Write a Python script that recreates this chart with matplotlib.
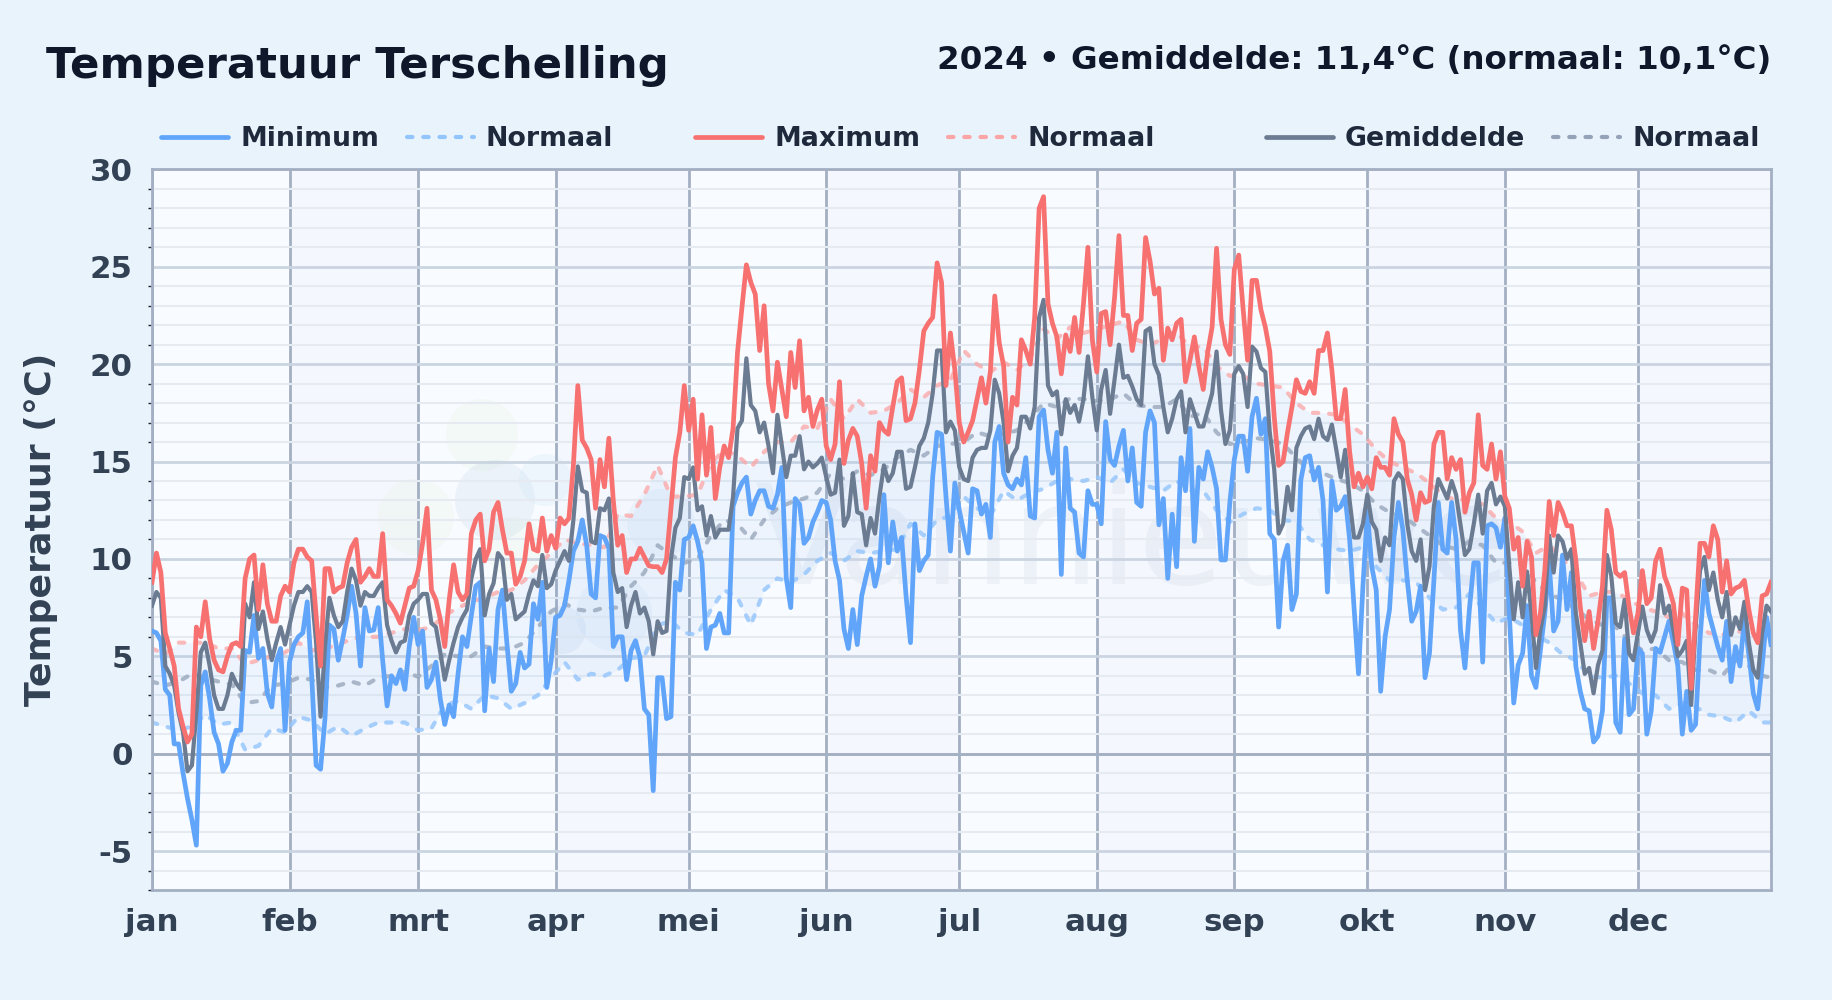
import matplotlib
matplotlib.use('Agg')
import matplotlib.pyplot as plt
from matplotlib.lines import Line2D
from matplotlib.patches import Circle
from matplotlib.ticker import MultipleLocator
from matplotlib.transforms import IdentityTransform
import numpy as np

plt.rcParams['font.family'] = 'DejaVu Sans'
plt.rcParams['font.weight'] = 'bold'
plt.rcParams['axes.unicode_minus'] = False

month_names = ['jan', 'feb', 'mrt', 'apr', 'mei', 'jun', 'jul', 'aug', 'sep', 'okt', 'nov', 'dec']
month_days = [31, 29, 31, 30, 31, 30, 31, 31, 30, 31, 30, 31]

temp_min = [
    6.3, 6.2, 5.8, 3.3, 3.0, 0.5, 0.5, -1.0, -2.3, -3.4,
    -4.7, 3.5, 4.2, 2.8, 1.1, 0.5, -0.9, -0.5, 0.6, 1.2,
    1.2, 5.3, 5.2, 7.1, 4.9, 5.4, 3.1, 2.4, 4.7, 5.4,
    1.2, 4.7, 5.6, 6.0, 6.2, 7.8, 4.0, -0.6, -0.8, 1.8,
    6.6, 6.4, 4.8, 5.9, 7.1, 8.6, 7.2, 4.5, 7.5, 6.3,
    6.35, 7.5, 4.8, 2.45, 4.0, 3.6, 4.3, 3.3, 5.5, 7.0,
    5.6, 6.3, 3.4, 3.8, 4.7, 2.8, 1.5, 2.5, 1.9, 4.1,
    6.0, 5.5, 7.1, 8.6, 8.8, 2.2, 5.4, 3.7, 7.4, 8.4,
    5.7, 3.2, 3.6, 5.2, 4.4, 4.6, 7.7, 6.9, 8.8, 3.4,
    4.8, 7.0, 7.1, 7.6, 8.9, 10.4, 10.9, 12.0, 10.7, 8.2,
    8.0, 11.2, 11.1, 10.55, 5.5, 6.0, 6.0, 3.8, 5.3, 5.8,
    4.95, 2.3, 2.0, -1.9, 3.9, 3.9, 1.8, 1.9, 8.8, 8.4,
    11.0, 11.1, 11.7, 10.9, 9.8, 5.4, 6.5, 6.6, 7.2, 6.2,
    6.2, 12.7, 13.4, 13.9, 14.2, 12.3, 13.0, 13.5, 13.5, 12.7,
    12.6, 13.3, 14.7, 9.0, 7.5, 13.1, 12.8, 10.8, 11.1, 11.9,
    12.4, 13.0, 12.9, 12.0, 9.9, 8.9, 6.4, 5.4, 7.4, 5.6,
    8.1, 9.1, 10.0, 8.6, 9.6, 13.3, 9.8, 11.9, 10.4, 11.1,
    8.1, 5.7, 11.8, 9.4, 9.9, 10.2, 14.2, 16.5, 16.4, 13.2,
    10.4, 13.9, 12.5, 11.4, 10.3, 13.6, 13.5, 12.3, 12.8, 11.1,
    16.0, 16.8, 14.4, 13.8, 13.6, 14.1, 13.8, 15.2, 12.2, 12.1,
    17.3, 17.65, 15.6, 14.4, 16.5, 9.2, 15.7, 12.6, 12.4, 10.3,
    10.1, 13.5, 12.8, 12.8, 11.8, 17.05, 15.1, 14.8, 15.8, 16.6,
    14.0, 15.7, 12.9, 12.7, 16.5, 17.6, 17.0, 11.75, 13.1, 9.0,
    12.3, 9.6, 15.2, 13.5, 16.7, 10.9, 14.7, 14.1, 15.5, 14.7,
    13.6, 9.95, 9.95, 12.9, 15.1, 16.3, 16.3, 14.5, 17.3, 18.25,
    16.4, 17.2, 11.3, 11.0, 6.5, 9.9, 10.7, 7.4, 8.2, 14.05,
    15.2, 15.3, 14.05, 14.7, 13.0, 8.3, 14.0, 12.5, 12.7, 13.2,
    11.0, 7.5, 4.1, 8.6, 12.4, 9.6, 8.4, 3.2, 6.0, 7.4,
    11.1, 12.9, 11.5, 8.9, 6.8, 7.3, 8.6, 3.9, 5.15, 8.9,
    12.9, 10.5, 10.3, 12.9, 11.0, 6.35, 4.4, 7.4, 9.8, 9.8,
    4.7, 11.7, 11.8, 11.6, 10.6, 12.1, 7.2, 2.6, 4.55, 5.15,
    7.6, 4.0, 3.4, 5.3, 7.2, 9.8, 6.3, 6.8, 10.2, 7.4,
    9.3, 4.5, 3.2, 2.3, 2.2, 0.6, 0.9, 2.2, 8.0, 8.0,
    1.6, 1.1, 5.9, 2.0, 2.3, 5.4, 5.15, 1.0, 2.2, 5.4,
    5.2, 6.0, 6.8, 5.7, 4.5, 1.0, 3.2, 1.2, 1.5, 5.9,
    8.9, 7.2, 6.35, 5.5, 4.8, 6.8, 3.7, 5.5, 4.5, 6.9,
    5.1, 3.1, 2.3, 4.5, 7.0, 5.6,
]

temp_max = [
    8.8, 10.3, 9.3, 6.2, 5.4, 4.5, 2.3, 1.4, 0.6, 1.0,
    6.5, 6.0, 7.8, 5.9, 4.8, 4.3, 4.2, 5.0, 5.6, 5.7,
    5.5, 9.0, 10.0, 10.2, 7.4, 9.7, 7.7, 6.8, 6.8, 8.1,
    8.6, 8.3, 9.8, 10.5, 10.5, 10.1, 9.9, 7.1, 4.5, 9.5,
    9.5, 8.3, 8.5, 8.6, 9.8, 10.6, 11.0, 8.8, 9.1, 9.5,
    9.1, 9.1, 11.3, 7.9, 7.6, 7.2, 6.7, 7.6, 8.5, 8.6,
    9.4, 10.8, 12.6, 8.4, 7.9, 6.9, 5.5, 7.9, 9.7, 8.3,
    7.9, 8.2, 11.3, 12.0, 12.3, 9.9, 10.5, 12.4, 12.9, 11.5,
    10.3, 10.3, 8.7, 9.1, 9.9, 11.8, 10.5, 10.4, 12.1, 10.4,
    11.2, 10.55, 12.1, 11.8, 12.1, 14.8, 18.9, 16.1, 15.7, 15.1,
    12.6, 15.1, 13.7, 16.2, 13.0, 10.7, 11.2, 9.3, 10.0, 10.0,
    10.55, 10.1, 9.65, 9.6, 9.6, 9.3, 10.0, 12.6, 15.2, 16.5,
    18.9, 16.6, 18.2, 14.1, 17.4, 14.3, 16.75, 13.1, 14.7, 15.8,
    15.2, 16.7, 20.6, 22.9, 25.1, 24.2, 23.6, 20.7, 23.0, 19.0,
    17.6, 20.1, 18.7, 17.3, 20.6, 18.8, 21.2, 17.6, 18.3, 16.8,
    17.65, 18.2, 15.8, 15.1, 15.9, 19.1, 14.9, 16.1, 16.7, 16.3,
    14.9, 12.6, 15.3, 14.5, 17.0, 16.6, 16.4, 17.8, 19.1, 19.3,
    17.1, 17.2, 18.0, 19.7, 21.7, 22.1, 22.4, 25.2, 24.2, 18.9,
    21.6, 19.7, 17.0, 16.0, 16.5, 17.1, 18.2, 19.3, 18.0, 19.6,
    23.5, 21.1, 19.9, 16.0, 18.3, 17.9, 21.25, 20.7, 20.0, 22.4,
    28.0, 28.6, 23.1, 22.1, 21.4, 19.5, 21.5, 20.65, 22.4, 20.6,
    23.1, 26.0, 21.25, 19.6, 22.6, 22.7, 21.0, 23.4, 26.6, 22.5,
    22.5, 20.7, 22.1, 22.3, 26.5, 25.3, 23.6, 23.9, 20.2, 21.85,
    21.25, 22.1, 22.3, 19.1, 20.2, 21.4, 19.9, 18.7, 20.6, 21.9,
    25.95, 22.3, 21.0, 20.5, 24.85, 25.6, 22.8, 20.2, 24.3, 24.3,
    22.8, 21.9, 20.65, 17.3, 14.8, 15.0, 16.5, 17.8, 19.2, 18.6,
    18.5, 19.1, 18.5, 20.7, 20.7, 21.6, 19.7, 17.2, 17.2, 18.7,
    15.5, 13.7, 14.4, 13.7, 14.2, 13.6, 15.2, 14.7, 14.7, 14.3,
    17.2, 16.4, 16.0, 14.1, 13.3, 12.0, 13.4, 12.9, 13.0, 15.9,
    16.5, 16.5, 14.1, 15.2, 14.6, 15.1, 12.4, 13.4, 13.9, 17.4,
    14.8, 14.6, 15.9, 14.1, 15.5, 13.2, 12.6, 10.5, 11.1, 8.6,
    10.9, 10.1, 6.1, 7.2, 9.4, 12.95, 11.2, 12.9, 12.4, 11.7,
    11.7, 9.95, 7.55, 5.8, 7.3, 5.4, 6.8, 8.6, 12.5, 11.5,
    9.3, 9.1, 9.3, 7.55, 6.2, 7.2, 9.4, 7.7, 8.0, 9.9,
    10.5, 9.1, 8.5, 7.7, 5.6, 8.5, 8.4, 3.35, 7.1, 10.8,
    10.8, 10.1, 11.7, 11.0, 8.3, 9.9, 8.2, 8.5, 8.6, 8.9,
    7.4, 6.2, 5.7, 8.1, 8.2, 8.8,
]

temp_avg = [
    7.6, 8.3, 8.0, 4.5, 4.1, 3.5, 2.1, 1.1, -0.9, -0.6,
    2.1, 5.2, 5.7, 4.5, 3.0, 2.3, 2.3, 3.0, 4.1, 3.6,
    3.3, 7.7, 7.0, 8.8, 6.4, 7.3, 5.9, 4.8, 5.7, 6.5,
    5.6, 6.6, 7.6, 8.3, 8.3, 8.6, 8.3, 5.7, 1.9, 5.5,
    8.0, 7.1, 6.5, 6.8, 8.3, 9.5, 8.9, 7.6, 8.3, 8.1,
    8.1, 8.5, 8.8, 6.6, 5.8, 5.2, 5.7, 5.8, 7.1, 7.7,
    7.9, 8.2, 8.2, 6.7, 6.5, 5.2, 3.8, 4.8, 5.7, 6.5,
    7.0, 7.4, 9.0, 10.0, 10.5, 7.1, 8.2, 8.75, 10.3, 10.0,
    7.9, 8.2, 6.9, 7.1, 7.3, 8.2, 8.9, 8.6, 10.2, 8.5,
    8.7, 9.4, 9.9, 10.4, 9.9, 12.0, 14.75, 13.5, 13.4, 10.9,
    10.8, 12.6, 12.5, 13.1, 9.3, 8.3, 8.5, 6.5, 7.6, 8.3,
    7.2, 7.5, 6.8, 5.1, 6.8, 6.2, 6.3, 10.0, 11.6, 12.1,
    14.2, 14.1, 14.7, 12.5, 12.7, 11.2, 12.2, 11.1, 11.5, 11.5,
    11.5, 13.2, 16.7, 17.1, 20.3, 17.9, 17.6, 16.5, 17.0, 15.8,
    14.4, 17.4, 15.8, 14.2, 15.3, 15.3, 16.3, 14.6, 15.0, 14.7,
    14.9, 15.2, 14.2, 13.3, 13.4, 15.1, 11.7, 12.2, 14.4, 12.4,
    12.3, 10.7, 12.1, 11.3, 13.2, 14.8, 14.0, 14.4, 15.5, 15.5,
    13.6, 13.7, 14.7, 15.8, 16.2, 17.0, 18.5, 20.7, 20.7, 16.5,
    17.05, 16.6, 14.7, 14.1, 14.0, 15.2, 15.6, 15.7, 15.7, 16.6,
    19.2, 18.5, 17.0, 14.5, 15.3, 15.7, 17.3, 17.3, 16.7, 17.8,
    22.4, 23.3, 18.9, 18.4, 18.6, 16.4, 18.2, 17.5, 17.9, 17.05,
    18.2, 20.4, 18.3, 16.6, 18.7, 19.7, 17.45, 19.2, 21.0, 19.3,
    19.4, 18.85, 18.2, 17.9, 21.7, 21.85, 20.0, 19.45, 17.8, 16.5,
    17.2, 18.2, 18.6, 16.5, 18.2, 17.5, 16.8, 16.8, 17.65, 18.5,
    20.65, 17.65, 15.9, 16.6, 19.5, 19.9, 19.5, 17.8, 20.9, 20.65,
    19.8, 19.6, 16.5, 14.6, 11.3, 11.8, 13.7, 12.5, 15.7, 16.3,
    16.7, 16.8, 16.15, 17.2, 16.3, 16.1, 16.9, 15.6, 14.2, 15.6,
    13.0, 11.1, 11.1, 11.8, 13.3, 11.9, 11.5, 9.9, 11.1, 10.7,
    14.0, 14.4, 14.1, 11.8, 10.4, 9.9, 11.0, 8.4, 9.6, 12.7,
    14.1, 13.6, 13.1, 14.0, 13.3, 11.75, 10.2, 10.5, 11.8, 13.3,
    11.3, 13.5, 13.9, 12.8, 13.2, 12.7, 9.6, 6.9, 8.8, 7.0,
    9.35, 7.2, 4.4, 6.35, 7.55, 11.2, 9.3, 11.2, 10.9, 10.0,
    10.5, 7.2, 5.7, 4.1, 4.4, 3.1, 4.55, 5.3, 10.2, 9.1,
    6.7, 6.5, 7.9, 5.15, 4.8, 6.2, 7.55, 6.35, 5.75, 6.35,
    8.65, 7.2, 7.6, 6.35, 5.0, 5.3, 5.8, 2.5, 6.5, 9.4,
    10.1, 8.4, 9.3, 7.9, 7.0, 8.3, 6.1, 7.0, 6.4, 7.8,
    5.7, 4.3, 3.9, 6.2, 7.6, 7.3,
]

# normals read every third day, the last one on 31 dec
normal_days = list(range(0, 366, 3)) + [365]

normal_min = [
    1.6, 1.4, 1.2, 1.4, 2.0, 1.5, 1.6, 0.2, 0.4, 1.3, 1.1, 1.9, 1.7, 1.0, 1.4, 0.9,
    1.3, 1.6, 1.6, 1.6, 1.2, 1.3, 2.5, 2.7, 2.3, 3.0, 2.85, 2.3, 2.6, 3.0, 3.9,
    4.7, 3.8, 4.1, 4.0, 4.3, 4.9, 5.0, 6.6, 6.8, 6.2, 6.1, 7.4, 8.4, 8.0, 6.6,
    8.4, 9.0, 8.8, 9.2, 9.9, 10.3, 9.9, 10.4, 10.3, 10.4, 10.5, 11.8, 11.2, 12.0, 12.2,
    13.2, 12.6, 12.2, 13.5, 13.0, 13.4, 13.6, 14.0, 14.1, 14.0, 14.2, 13.9, 14.6, 13.9, 13.7,
    13.5, 14.0, 13.5, 13.5, 12.5, 11.9, 12.3, 12.6, 12.5, 12.0, 11.9, 11.0, 10.7, 10.5, 10.4,
    10.6, 9.6, 8.9, 8.9, 8.8, 8.0, 7.4, 7.5, 8.2, 7.5, 6.7, 7.0, 6.6, 6.1,
    5.7, 5.1, 4.8, 4.0, 3.9, 4.0, 3.6, 3.1, 3.0, 2.3, 2.6, 2.4, 2.0, 1.9, 1.6, 2.2, 1.6,
    1.6,
]

normal_max = [
    5.4, 5.1, 5.7, 5.7, 5.7, 5.4, 5.4, 4.6, 4.8, 5.0, 5.2, 5.7, 5.3, 5.4, 5.6, 5.9,
    6.0, 6.0, 6.2, 6.4, 6.35, 6.5, 7.1, 7.5, 7.8, 8.0, 8.3, 8.4, 8.9, 9.7, 10.3,
    11.0, 10.8, 10.7, 10.6, 12.3, 12.2, 13.3, 14.8, 13.2, 13.2, 13.3, 14.9, 15.6, 15.3, 14.7,
    15.5, 16.0, 16.0, 16.8, 16.7, 18.2, 17.2, 18.2, 17.5, 17.6, 18.0, 18.7, 18.3, 18.9, 19.2,
    20.7, 20.0, 19.6, 20.1, 19.7, 20.3, 21.8, 21.3, 21.9, 21.6, 21.8, 22.0, 22.2, 21.25, 21.0,
    21.3, 21.6, 20.9, 20.9, 19.9, 19.4, 19.4, 19.0, 18.9, 18.8, 18.0, 17.5, 17.5, 17.4, 16.9,
    16.4, 15.6, 15.0, 14.7, 14.4, 13.9, 13.3, 13.0, 13.1, 12.8, 12.1, 11.9, 11.4, 10.3,
    10.7, 10.0, 9.3, 8.1, 8.3, 8.3, 7.9, 7.5, 7.3, 7.0, 7.2, 6.6, 6.2, 6.1, 6.3, 6.2, 6.0,
    5.9,
]

normal_avg = [
    3.7, 3.5, 3.7, 4.1, 3.9, 3.7, 3.55, 2.6, 2.7, 3.5, 3.6, 3.9, 3.8, 3.4, 3.5, 3.7,
    3.5, 3.9, 4.0, 4.2, 3.95, 4.5, 5.1, 5.0, 5.0, 5.5, 5.4, 5.4, 5.7, 6.5, 7.3,
    7.7, 7.4, 7.3, 7.5, 7.5, 8.6, 9.3, 10.7, 10.2, 9.8, 10.0, 11.2, 12.0, 11.8, 11.0,
    12.0, 12.6, 12.9, 13.1, 13.4, 14.4, 14.1, 14.5, 14.3, 14.6, 15.2, 15.6, 15.3, 15.8, 15.9,
    16.0, 16.5, 16.3, 16.4, 16.6, 17.2, 18.0, 17.8, 18.25, 18.2, 18.1, 18.2, 18.5, 17.9, 17.8,
    17.8, 18.2, 17.3, 17.5, 16.5, 15.9, 16.0, 16.2, 16.1, 15.9, 15.2, 14.5, 14.4, 14.1, 13.9,
    13.5, 12.8, 12.4, 12.2, 11.7, 11.2, 10.7, 10.5, 10.9, 10.7, 9.8, 9.8, 9.7, 8.8,
    8.2, 7.9, 7.4, 6.9, 6.6, 6.5, 5.8, 5.3, 5.4, 4.8, 4.7, 4.3, 4.3, 4.0, 4.8, 4.5, 4.0,
    3.9,
]

BG = '#e9f3fc'
DASH = (0, (1.3, 2.6))

days = np.arange(len(temp_min))
month_starts = np.cumsum([0] + month_days[:-1])

fig = plt.figure(figsize=(18.32, 10), dpi=100, facecolor=BG)
ax = fig.add_axes([152 / 1832, 0.11, 1619 / 1832, 0.7206], facecolor='#f8fbff')

# every second month has a faint band
for m in range(1, 12, 2):
    end = month_starts[m + 1] if m < 11 else 365
    ax.axvspan(month_starts[m], end, color='#eef1fb', alpha=0.3, lw=0, zorder=0)

# faint logo behind the lines, pixels from the top left of the figure
blobs = [
    (482, 435, 36, '#d9f0c0'), (416, 517, 38, '#d9f0c0'), (515, 547, 30, '#d9f0c0'),
    (495, 500, 40, '#94b8d8'), (562, 630, 24, '#94b8d8'), (545, 480, 26, '#a8d4f5'),
    (614, 613, 38, '#a8d4f5'), (661, 523, 34, '#a8d4f5'),
]
for bx, by, br, bc in blobs:
    ax.add_patch(Circle((bx, 1000 - by), br, transform=IdentityTransform(), color=bc,
                        alpha=0.13, lw=0, zorder=0.5))
ax.text(1133, 1000 - 545, 'Vannieuwe', transform=IdentityTransform(), fontsize=100,
        fontweight='normal', color='#5b7fa8', alpha=0.07, ha='center', va='center', zorder=0.5)

ax.fill_between(normal_days, normal_min, normal_max, color='#60a5fa', alpha=0.07, lw=0, zorder=1)

ax.set_xlim(0, 365)
ax.set_ylim(-7, 30)
ax.set_axisbelow(True)

ax.set_xticks(month_starts)
ax.set_xticklabels(month_names)
ax.yaxis.set_major_locator(MultipleLocator(5))
ax.yaxis.set_minor_locator(MultipleLocator(1))
ax.grid(axis='y', which='minor', color='#e6ebf2', lw=1.5)
ax.grid(axis='y', which='major', color='#cbd5e1', lw=2)
ax.grid(axis='x', which='major', color='#a3afc2', lw=2)
ax.axhline(0, color='#a3afc2', lw=2, zorder=1)

ax.tick_params(axis='both', which='major', length=0, labelsize=22.2, labelcolor='#334155')
ax.tick_params(axis='y', which='major', pad=14)
ax.tick_params(axis='x', which='major', pad=13)
ax.tick_params(axis='y', which='minor', length=3, width=1, color='#1e293b')
for spine in ax.spines.values():
    spine.set_color('#a3afc2')
    spine.set_linewidth(2)

ax.plot(normal_days, normal_min, color='#93c5fd', lw=3, ls=DASH, dash_capstyle='round', alpha=0.8, zorder=2)
ax.plot(normal_days, normal_max, color='#fca5a5', lw=3, ls=DASH, dash_capstyle='round', alpha=0.75, zorder=2)
ax.plot(normal_days, normal_avg, color='#94a3b8', lw=3, ls=DASH, dash_capstyle='round', alpha=0.75, zorder=2)

ax.plot(days, temp_min, color='#60a5fa', lw=3.4, zorder=3)
ax.plot(days, temp_avg, color='#6b7b92', lw=3.0, zorder=4)
ax.plot(days, temp_max, color='#f87171', lw=3.4, zorder=5)

ax.set_ylabel('Temperatuur (°C)', fontsize=26.2, fontweight='bold', color='#334155', va='center')
ax.yaxis.set_label_coords((41 - 152) / 1619, 0.5)

fig.text(46 / 1832, 1 - 66 / 1000, 'Temperatuur Terschelling', fontsize=31.3,
         color='#0f172a', ha='left', va='center')
fig.text(1771 / 1832, 1 - 60 / 1000, '2024 • Gemiddelde: 11,4°C (normaal: 10,1°C)', fontsize=23.4,
         color='#0f172a', ha='right', va='center')

groups = [
    ('Minimum', '#60a5fa', '#93c5fd', 161),
    ('Maximum', '#f87171', '#fca5a5', 695),
    ('Gemiddelde', '#6b7b92', '#94a3b8', 1266),
]
for label, color, normal_color, left in groups:
    handles = [
        Line2D([], [], color=color, lw=3.4, solid_capstyle='round'),
        Line2D([], [], color=normal_color, lw=3, ls=DASH, dash_capstyle='round'),
    ]
    fig.legend(handles, [label, 'Normaal'], ncol=2, loc='center left',
               bbox_to_anchor=(left / 1832, 1 - 139 / 1000), frameon=False,
               borderpad=0, borderaxespad=0, handlelength=2.5, handletextpad=0.45,
               columnspacing=1.04, prop={'size': 19.3, 'weight': 'bold'},
               labelcolor='#1e293b')

plt.savefig('out.png', dpi=100, facecolor=BG)
